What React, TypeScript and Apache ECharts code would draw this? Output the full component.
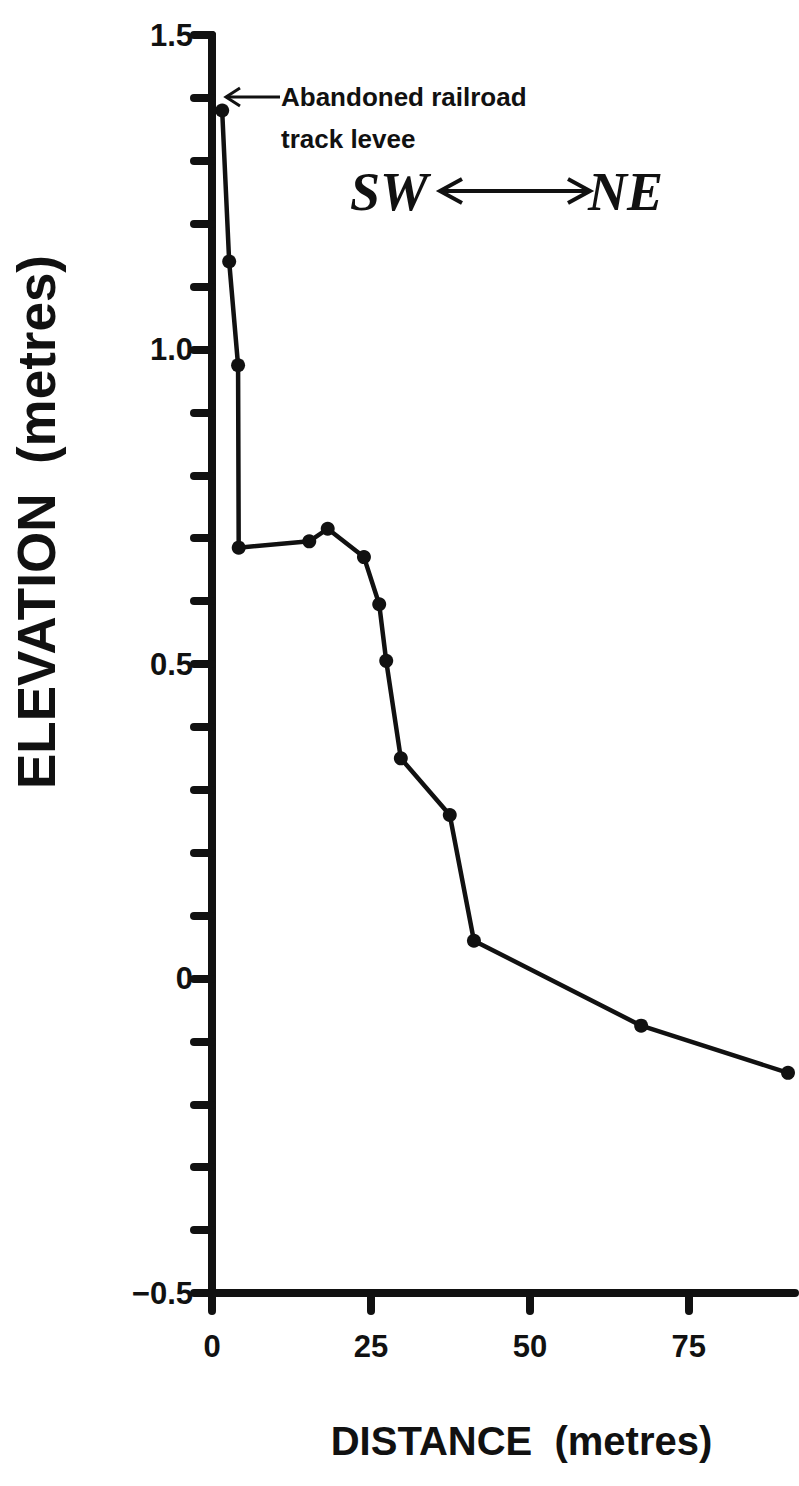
import React, { useEffect, useRef } from "react";
import * as echarts from "echarts";

// Profile survey points
const distance = [1.6, 2.7, 4.1, 4.2, 15.3, 18.2, 23.9, 26.3, 27.4, 29.7, 37.4, 41.2, 67.5, 90.6];
const elevation = [1.38, 1.14, 0.975, 0.685, 0.695, 0.715, 0.67, 0.595, 0.505, 0.35, 0.26, 0.06, -0.075, -0.15];

// Axis ticks and labels
const xTickValues = [0, 25, 50, 75];
const xTickLabels = ["0", "25", "50", "75"];
const yTickValues = [-0.5, -0.4, -0.3, -0.2, -0.1, 0, 0.1, 0.2, 0.3, 0.4, 0.5, 0.6, 0.7, 0.8, 0.9, 1.0, 1.1, 1.2, 1.3, 1.4, 1.5];
const yLabelValues = [-0.5, 0, 0.5, 1.0, 1.5];
const yTickLabels = ["\u22120.5", "0", "0.5", "1.0", "1.5"];

const INK = "#111111";
const FONT = "'Liberation Sans', Arial, sans-serif";

export default function App() {
  const ref = useRef<HTMLDivElement | null>(null);

  useEffect(() => {
    if (!ref.current) return;
    const chart = echarts.init(ref.current, null, { renderer: "svg" });
    const data = distance.map((d, i) => [d, elevation[i]]);

    const arrowY = 191;
    const option: any = {
      animation: false,
      backgroundColor: "#ffffff",
      grid: { left: 212, right: 4, top: 35, bottom: 193, outerBoundsMode: "none", containLabel: false },
      xAxis: {
        type: "value",
        min: 0,
        max: 91.7,
        splitLine: { show: false },
        axisLine: { show: true, onZero: false, lineStyle: { color: INK, width: 8, cap: "round" } },
        axisTick: { show: true, inside: false, length: 18, customValues: xTickValues, lineStyle: { color: INK, width: 8, cap: "round" } },
        axisLabel: {
          customValues: xTickValues,
          margin: 38,
          color: INK,
          fontFamily: FONT,
          fontWeight: "bold",
          fontSize: 31,
          formatter: (v: number) => {
            const i = xTickValues.indexOf(Math.round(v));
            return i >= 0 ? xTickLabels[i] : "";
          },
        },
        name: "DISTANCE  (metres)",
        nameLocation: "middle",
        nameGap: 128,
        nameTextStyle: { color: INK, fontFamily: FONT, fontWeight: "bold", fontSize: 40, padding: [0, 0, 0, 36] },
      },
      yAxis: {
        type: "value",
        min: -0.5,
        max: 1.5,
        splitLine: { show: false },
        axisLine: { show: true, onZero: false, lineStyle: { color: INK, width: 8, cap: "round" } },
        axisTick: { show: true, inside: false, length: 18, customValues: yTickValues, lineStyle: { color: INK, width: 8, cap: "round" } },
        axisLabel: {
          customValues: yLabelValues,
          margin: 19,
          color: INK,
          fontFamily: FONT,
          fontWeight: "bold",
          fontSize: 31,
          formatter: (v: number) => {
            const i = yLabelValues.findIndex((t) => Math.abs(t - v) < 1e-6);
            return i >= 0 ? yTickLabels[i] : "";
          },
        },
      },
      series: [
        {
          type: "line",
          data,
          smooth: false,
          symbol: "circle",
          symbolSize: 14,
          clip: false,
          lineStyle: { color: INK, width: 4.5 },
          itemStyle: { color: INK },
          z: 5,
        },
      ],
      graphic: [
        // y-axis title
        {
          type: "text",
          x: 36,
          y: 522,
          rotation: Math.PI / 2,
          style: {
            text: "ELEVATION  (metres)",
            fill: INK,
            font: `bold 53px ${FONT}`,
            textAlign: "center",
            textVerticalAlign: "middle",
          },
        },
        // levee annotation
        { type: "line", shape: { x1: 226, y1: 97, x2: 280, y2: 97 }, style: { stroke: INK, lineWidth: 3 } },
        { type: "polyline", shape: { points: [[240, 88], [226, 97], [240, 106]] }, style: { stroke: INK, lineWidth: 3, fill: null } },
        {
          type: "text",
          x: 281,
          y: 97,
          style: { text: "Abandoned railroad", fill: INK, font: `bold 26px ${FONT}`, textVerticalAlign: "middle", textAlign: "left" },
        },
        {
          type: "text",
          x: 281,
          y: 139,
          style: { text: "track levee", fill: INK, font: `bold 26px ${FONT}`, textVerticalAlign: "middle", textAlign: "left" },
        },
        // SW <-> NE
        {
          type: "text",
          x: 350,
          y: 192,
          style: { text: "SW", fill: INK, font: `italic bold 54px 'Liberation Serif', 'DejaVu Serif', serif`, textVerticalAlign: "middle", textAlign: "left" },
        },
        { type: "line", shape: { x1: 440, y1: arrowY, x2: 590, y2: arrowY }, style: { stroke: INK, lineWidth: 4 } },
        { type: "polyline", shape: { points: [[462, 179], [440, arrowY], [462, 203]] }, style: { stroke: INK, lineWidth: 4, fill: null } },
        { type: "polyline", shape: { points: [[568, 179], [590, arrowY], [568, 203]] }, style: { stroke: INK, lineWidth: 4, fill: null } },
        {
          type: "text",
          x: 588,
          y: 192,
          style: { text: "NE", fill: INK, font: `italic bold 54px 'Liberation Serif', 'DejaVu Serif', serif`, textVerticalAlign: "middle", textAlign: "left" },
        },
      ],
    };
    chart.setOption(option);
    return () => chart.dispose();
  }, []);

  return (
    <div
      ref={ref}
      style={{ position: "absolute", left: 0, top: 0, width: 799, height: 1486, background: "#ffffff" }}
    />
  );
}
